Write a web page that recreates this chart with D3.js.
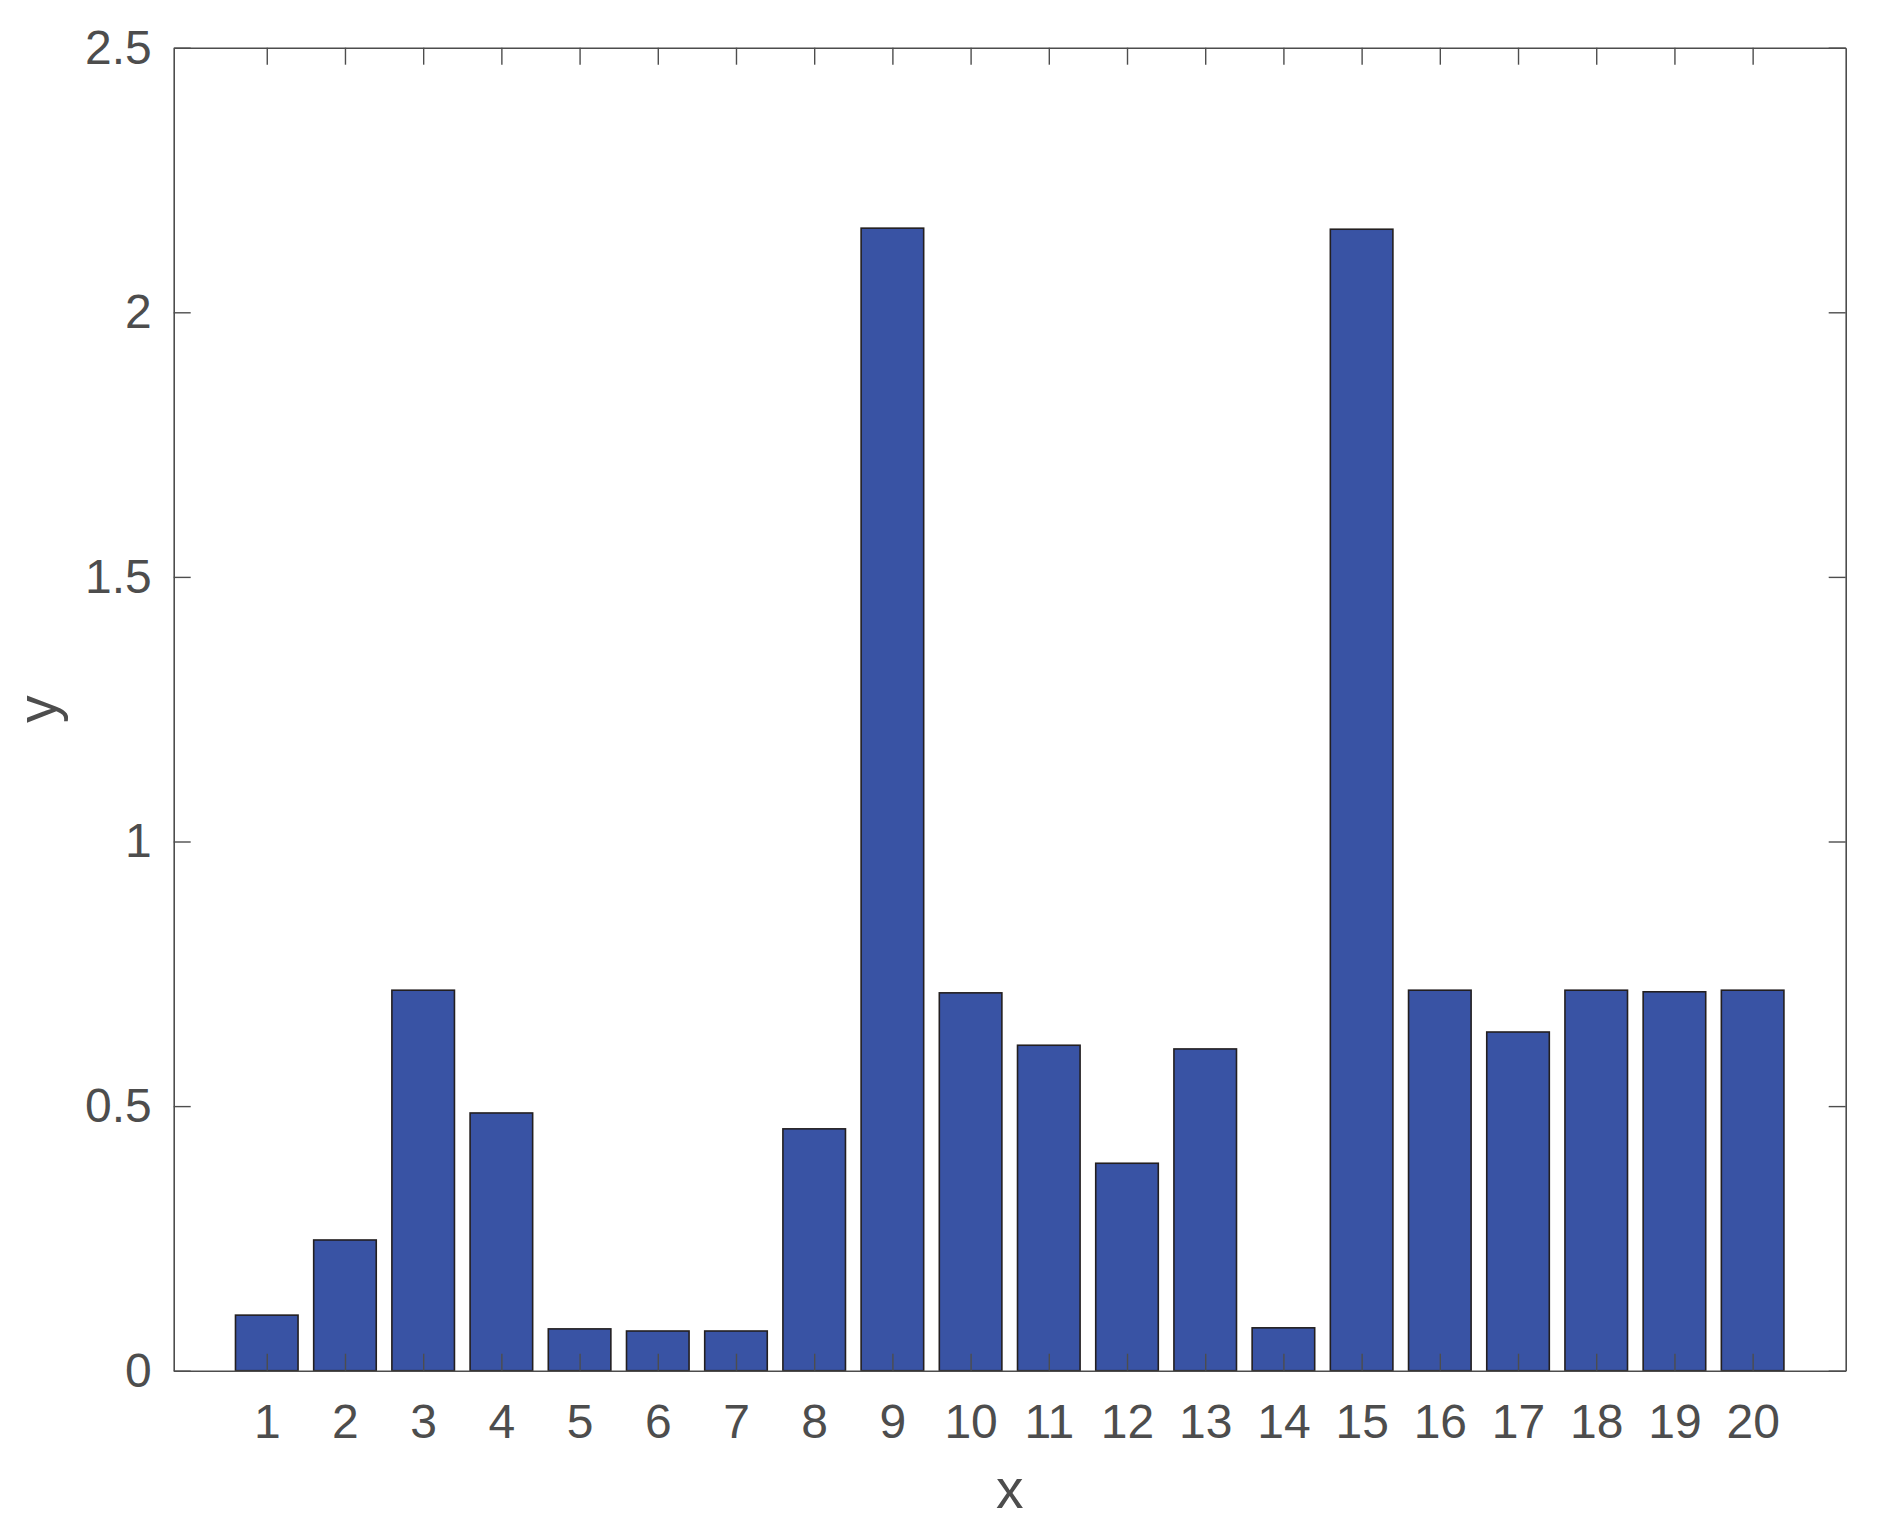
<!DOCTYPE html>
<html>
<head>
<meta charset="utf-8">
<script src="https://cdn.jsdelivr.net/npm/d3@7"></script>
<style>
  html, body { margin: 0; padding: 0; background: #ffffff; }
  svg { display: block; }
  text { font-family: "Liberation Sans", Arial, Helvetica, sans-serif; }
</style>
</head>
<body>
<svg id="chart" width="1882" height="1532"></svg>
<script>
// ---- data ----
const categories = [1,2,3,4,5,6,7,8,9,10,11,12,13,14,15,16,17,18,19,20];
const values = [0.105, 0.247, 0.719, 0.487, 0.079, 0.075, 0.075, 0.457, 2.159, 0.714,
                0.615, 0.392, 0.608, 0.081, 2.157, 0.719, 0.640, 0.719, 0.716, 0.719];
const yTicks = [0, 0.5, 1, 1.5, 2, 2.5];
const yTickLabels = ["0", "0.5", "1", "1.5", "2", "2.5"];
const xLabel = "x";
const yLabel = "y";

(function () {
// ---- layout ----
const W = 1882, H = 1532;
const pLeft = 173.7, pRight = 1845.7, pTop = 47.7, pBottom = 1370.7;
const axisColor = "#4d4d4d";
const barFill = "#3953a4";
const barStroke = "#231f20";
const tickLen = 17;

const svg = d3.select("#chart");
svg.append("rect").attr("width", W).attr("height", H).attr("fill", "#fff");

const x = d3.scaleLinear().domain([-0.19, 21.19]).range([pLeft, pRight]);
const y = d3.scaleLinear().domain([0, 2.5]).range([pBottom, pTop]);

// bars
const barW = 0.8;
svg.append("g").selectAll("rect")
  .data(categories.map((c, i) => ({c, v: values[i]})))
  .join("rect")
  .attr("x", d => x(d.c - barW / 2))
  .attr("width", d => x(d.c + barW / 2) - x(d.c - barW / 2))
  .attr("y", d => y(d.v))
  .attr("height", d => y(0) - y(d.v))
  .attr("fill", barFill)
  .attr("stroke", barStroke)
  .attr("stroke-width", 1.6);

function styleAxis(g, showLabels) {
  g.select(".domain").attr("stroke", axisColor).attr("stroke-width", 1.6);
  g.selectAll(".tick line").attr("stroke", axisColor).attr("stroke-width", 1.4);
  g.selectAll(".tick text")
    .attr("fill", axisColor)
    .style("font-size", "48px")
    .style("font-family", "'Liberation Sans', Arial, Helvetica, sans-serif");
  if (!showLabels) g.selectAll(".tick text").remove();
}

// bottom axis
const gB = svg.append("g").attr("transform", `translate(0,${pBottom})`)
  .call(d3.axisBottom(x).tickValues(categories).tickFormat(d3.format("d"))
    .tickSizeInner(-tickLen).tickSizeOuter(0).tickPadding(33));
styleAxis(gB, true);

// top axis
const gT = svg.append("g").attr("transform", `translate(0,${pTop})`)
  .call(d3.axisTop(x).tickValues(categories).tickSizeInner(-tickLen).tickSizeOuter(0));
styleAxis(gT, false);

// left axis
const gL = svg.append("g").attr("transform", `translate(${pLeft},0)`)
  .call(d3.axisLeft(y).tickValues(yTicks).tickFormat((d, i) => yTickLabels[i])
    .tickSizeInner(-tickLen).tickSizeOuter(0).tickPadding(22));
styleAxis(gL, true);

// right axis
const gR = svg.append("g").attr("transform", `translate(${pRight},0)`)
  .call(d3.axisRight(y).tickValues(yTicks).tickSizeInner(-tickLen).tickSizeOuter(0));
styleAxis(gR, false);

// axis labels
svg.append("text")
  .attr("x", (pLeft + pRight) / 2)
  .attr("y", 1507.7)
  .attr("text-anchor", "middle")
  .attr("fill", axisColor)
  .style("font-size", "55px")
  .text(xLabel);

svg.append("text")
  .attr("transform", `translate(55.6,${(pTop + pBottom) / 2}) rotate(-90)`)
  .attr("text-anchor", "middle")
  .attr("fill", axisColor)
  .style("font-size", "55px")
  .text(yLabel);
})();
</script>
</body>
</html>
